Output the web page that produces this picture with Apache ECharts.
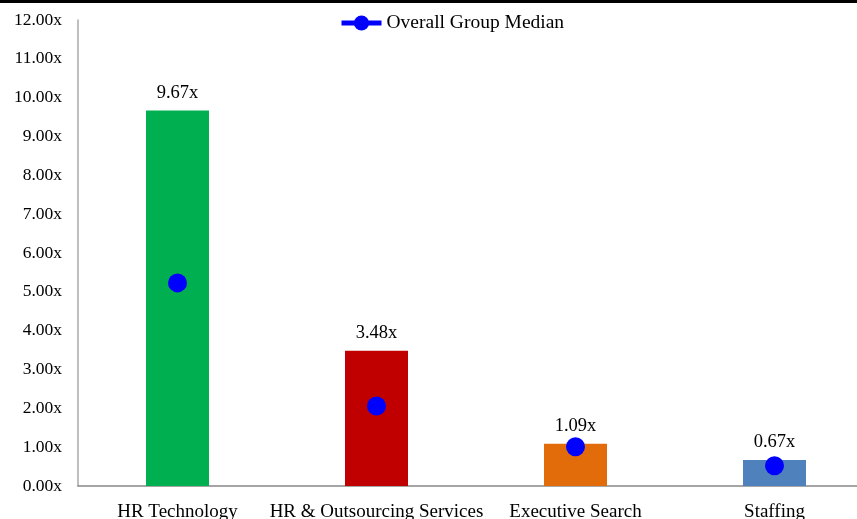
<!DOCTYPE html>
<html>
<head>
<meta charset="utf-8">
<script src="https://cdn.jsdelivr.net/npm/echarts@6/dist/echarts.min.js"></script>
<style>
  html, body { margin: 0; padding: 0; background: #fff; overflow: hidden; }
  /* 图表比窗口略宽，右侧被裁掉 */
  #chart { width: 874px; height: 519px; }
</style>
</head>
<body>
<div id="chart"></div>
<script>
// 分类与数值
const categories = ['HR Technology', 'HR & Outsourcing Services', 'Executive Search', 'Staffing'];
const multiples = [9.67, 3.48, 1.09, 0.67];
const medians = [5.23, 2.06, 1.01, 0.52];
const barColors = ['#00b050', '#c00000', '#e36c0a', '#4f81bd'];

const font = 'Liberation Serif';

let myChart = echarts.init(document.getElementById('chart'));

let option = {
  animation: false,
  textStyle: { fontFamily: font },
  // 顶部黑线
  graphic: [{
    type: 'rect',
    shape: { x: 0, y: 0, width: 874, height: 3 },
    style: { fill: '#000' }
  }],
  legend: {
    top: 13,
    left: 339,
    padding: 0,
    itemWidth: 40,
    itemHeight: 19,
    itemGap: 4,
    textStyle: { fontFamily: font, fontSize: 19.5, color: '#000', padding: [2, 0, 0, 0] },
    data: [{
      name: 'Overall Group Median',
      lineStyle: { width: 5, opacity: 1, color: '#0000ff' }
    }]
  },
  grid: {
    top: 20,
    left: 78,
    right: 0,
    bottom: 33,
    outerBoundsMode: 'none'
  },
  xAxis: {
    type: 'category',
    data: categories,
    axisLine: { lineStyle: { color: '#888', width: 1.5 } },
    axisTick: { show: false },
    axisLabel: { color: '#000', fontSize: 19, fontFamily: font, margin: 17, interval: 0 }
  },
  yAxis: {
    type: 'value',
    min: 0,
    max: 12,
    interval: 1,
    splitLine: { show: false },
    axisLine: { show: true, lineStyle: { color: '#aaa', width: 1.5 } },
    axisTick: { show: false },
    axisLabel: {
      color: '#000',
      fontSize: 17.5,
      fontFamily: font,
      margin: 16,
      formatter: v => v.toFixed(2) + 'x'
    }
  },
  series: [{
    name: 'Multiple',
    type: 'bar',
    barWidth: 63,
    data: multiples.map((v, i) => ({ value: v, itemStyle: { color: barColors[i] } })),
    label: {
      show: true,
      position: 'top',
      distance: 8,
      color: '#000',
      fontSize: 18.5,
      fontFamily: font,
      formatter: p => p.value.toFixed(2) + 'x'
    }
  }, {
    name: 'Overall Group Median',
    type: 'line',
    data: medians,
    symbol: 'circle',
    symbolSize: 19,
    itemStyle: { color: '#0000ff' },
    lineStyle: { width: 0, opacity: 0 },
    z: 5
  }]
};

myChart.setOption(option, true);
</script>
</body>
</html>
